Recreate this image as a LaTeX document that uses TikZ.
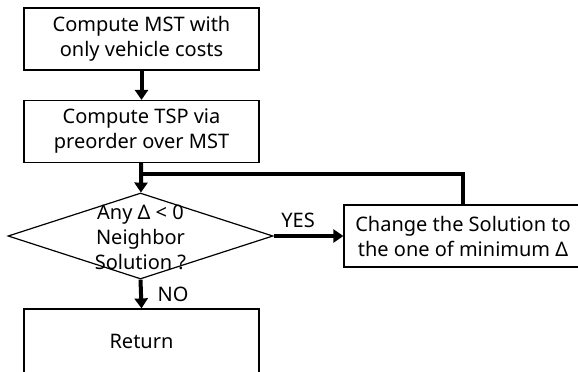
\documentclass[tikz,border=0pt]{standalone}
\usepackage{fontspec}
\setmainfont{Noto Sans}
\usetikzlibrary{shapes.geometric,arrows.meta}
\tikzset{
  stepbox/.style={draw,line width=0.6pt,minimum width=117.5pt,minimum height=31pt,align=center,inner sep=0pt},
  decision/.style={draw,diamond,line width=0.6pt,minimum width=132.5pt,minimum height=43pt,inner sep=0pt},
  flow/.style={line width=2pt,-{Triangle[width=6.5pt,length=5pt]}},
  joinline/.style={line width=2pt}
}
\begin{document}
\begin{tikzpicture}[x=0.5pt,y=-0.5pt,font=\fontsize{10}{12.5}\selectfont]
    \useasboundingbox (0,0) rectangle (578,371);
    \node[stepbox] (mst) at (141.5,39) {Compute MST with\\only vehicle costs};
    \node[stepbox] (tsp) at (141.5,131.5) {Compute TSP via\\preorder over MST};
    \node[decision] (check) at (140.5,236) {};
    \node[align=center] (checktext) at (140.5,237) {Any Δ < 0\\Neighbor\\Solution ?};
    \node[stepbox,minimum width=119pt] (change) at (463,236) {Change the Solution to\\the one of minimum Δ};
    \node[stepbox,minimum height=32pt] (ret) at (141.5,341) {Return};
    \coordinate (merge) at (141.5,174);
    \draw[flow] (mst) -- (tsp);
    \draw[flow] (tsp) -- (check);
    \draw[joinline] (change.north) |- (merge);
    \draw[flow] (check.east) -- node[above,pos=0.35] (yes) {YES} (change.west);
    \draw[flow] (check.south) -- node[right,xshift=4pt] (no) {NO} (ret.north);
  \end{tikzpicture}
\end{document}
